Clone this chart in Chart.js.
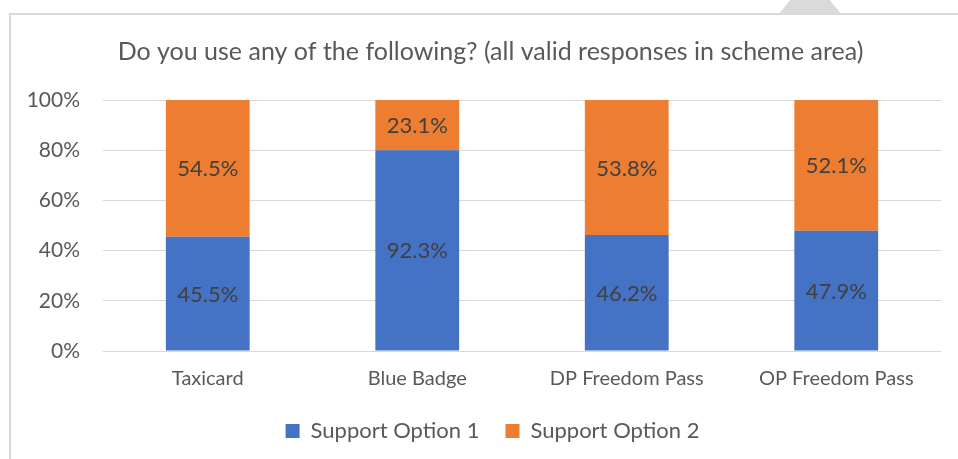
<!DOCTYPE html>
<html>
<head>
<meta charset="utf-8">
<script src="https://cdn.jsdelivr.net/npm/chart.js@4/dist/chart.umd.min.js"></script>
<style>
  body { margin: 0; background: #fff; }
  #wrap { position: relative; width: 958px; height: 459px; overflow: hidden; }
  .frame { position: absolute; left: 9px; top: 13px; width: 1000px; height: 500px;
           border-left: 2px solid #d9d9d9; border-top: 2px solid #d9d9d9; }
  .tab { position: absolute; left: 779px; top: 0; width: 62px; height: 14px; background: #dadada;
         clip-path: polygon(0 100%, 18% 0, 82% 0, 100% 100%); }
  canvas { position: absolute; left: 0; top: 0; }
</style>
</head>
<body>
<div id="wrap">
  <div class="frame"></div>
  <div class="tab"></div>
  <canvas id="myChart" width="958" height="459"></canvas>
</div>
<script>
// Data dari grafik
const categories = ['Taxicard', 'Blue Badge', 'DP Freedom Pass', 'OP Freedom Pass'];
const option1 = [45.5, 92.3, 46.2, 47.9];
const option2 = [54.5, 23.1, 53.8, 52.1];
const yTicks = [0, 20, 40, 60, 80, 100];

// 100% stacked: bagi dengan total per kategori
const totals = categories.map((c, i) => option1[i] + option2[i]);
const share1 = option1.map((v, i) => v / totals[i] * 100);
const share2 = option2.map((v, i) => v / totals[i] * 100);

const FONT = 'Lato, Carlito, Calibri, sans-serif';

// label nilai di tengah tiap bar
const valueLabels = {
    id: 'valueLabels',
    afterDatasetsDraw(chart) {
        const ctx = chart.ctx;
        ctx.save();
        ctx.font = '22px ' + FONT;
        ctx.fillStyle = '#404040';
        ctx.textAlign = 'center';
        ctx.textBaseline = 'middle';
        chart.data.datasets.forEach((ds, di) => {
            const meta = chart.getDatasetMeta(di);
            meta.data.forEach((bar, i) => {
                const p = bar.getCenterPoint();
                ctx.fillText(ds.raw[i].toFixed(1) + '%', p.x, p.y + 1);
            });
        });
        ctx.restore();
    }
};

// judul & legend agak ke kanan seperti di Excel
const shiftBoxes = {
    id: 'shiftBoxes',
    afterLayout(chart) {
        chart.titleBlock.left += 20;
        chart.titleBlock.right += 20;
        chart.legend.left += 22;
        chart.legend.right += 22;
    }
};

const ctx = document.getElementById('myChart').getContext('2d');
const myChart = new Chart(ctx, {
    type: 'bar',
    data: {
        labels: categories,
        datasets: [{
            label: 'Support Option 1',
            data: share1,
            raw: option1,
            backgroundColor: '#4472C4'
        }, {
            label: 'Support Option 2',
            data: share2,
            raw: option2,
            backgroundColor: '#ED7D31'
        }]
    },
    options: {
        responsive: false,
        animation: false,
        layout: { padding: { left: 0, right: 17, top: 37, bottom: 7 } },
        datasets: {
            bar: { categoryPercentage: 1, barPercentage: 0.4 }
        },
        plugins: {
            title: {
                display: true,
                text: 'Do you use any of the following? (all valid responses in scheme area)',
                color: '#595959',
                font: { family: FONT, size: 25, weight: 'normal' },
                padding: { top: 0, bottom: 33 }
            },
            legend: {
                position: 'bottom',
                labels: {
                    color: '#595959',
                    font: { family: FONT, size: 22 },
                    boxWidth: 14,
                    boxHeight: 14,
                    padding: 26
                }
            },
            tooltip: { enabled: false }
        },
        scales: {
            x: {
                stacked: true,
                grid: { display: false },
                border: { display: false },
                ticks: {
                    color: '#595959',
                    font: { family: FONT, size: 20 },
                    padding: 8,
                    maxRotation: 0
                },
                afterFit: (s) => { s.height = 43; }
            },
            y: {
                stacked: true,
                min: 0,
                max: 100,
                afterBuildTicks: (s) => { s.ticks = yTicks.map(v => ({ value: v })); },
                grid: { color: '#d9d9d9', lineWidth: 1, drawTicks: false },
                border: { display: false },
                ticks: {
                    color: '#595959',
                    font: { family: FONT, size: 21 },
                    padding: 23,
                    callback: (v) => v + '%'
                },
                afterFit: (s) => { s.width = 103; }
            }
        }
    },
    plugins: [valueLabels, shiftBoxes]
});
</script>
</body>
</html>
